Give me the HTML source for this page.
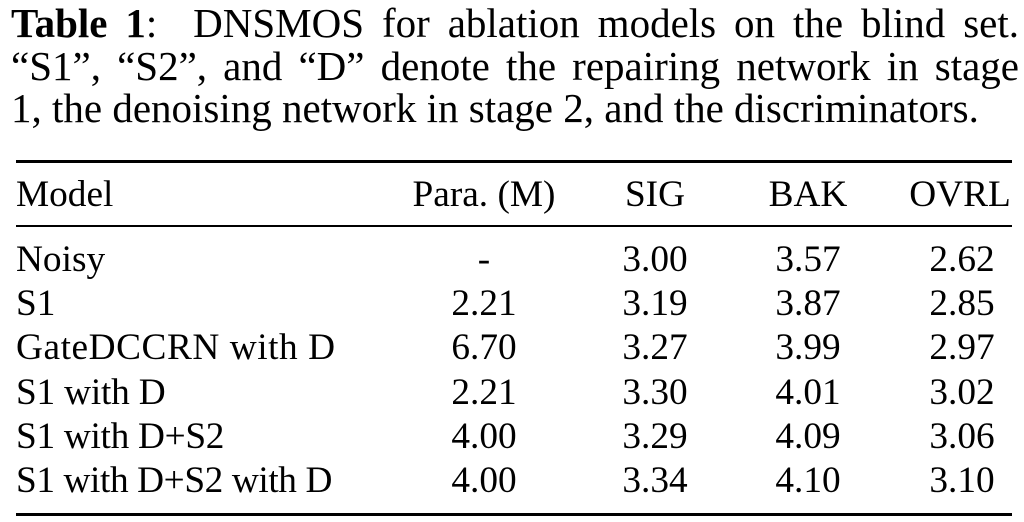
<!DOCTYPE html>
<html>
<head>
<meta charset="utf-8">
<style>
  html, body { margin: 0; padding: 0; background: #fff; }
  body { width: 1024px; height: 522px; overflow: hidden; position: relative; color: #000;
         font-family: "Liberation Serif", "Times New Roman", serif; }
  .cap { position: absolute; left: 11px; font-size: 41px; line-height: 41px; white-space: nowrap; }
  .just { width: 1008px; text-align: justify; text-align-last: justify; white-space: normal; }
  .t { position: absolute; font-size: 37.3px; line-height: 37px; white-space: nowrap; }
  .c { position: absolute; font-size: 37.3px; line-height: 37px; white-space: nowrap; width: 160px; text-align: center; }
  .rule { position: absolute; left: 16px; width: 996px; background: #000; }
</style>
</head>
<body>
  <div class="cap just" style="top:2.5px;"><b>Table 1</b>: &nbsp;DNSMOS for ablation models on the blind set.</div>
  <div class="cap just" style="top:45.5px;">“S1”, “S2”, and “D” denote the repairing network in stage</div>
  <div class="cap" style="top:87.5px;">1, the denoising network in stage 2, and the discriminators.</div>

  <div class="rule" style="top:160px;height:3px;"></div>
  <div class="rule" style="top:225px;height:2px;"></div>
  <div class="rule" style="top:513px;height:3px;"></div>

  <!-- header -->
  <div class="t" style="left:16px;top:175.5px;">Model</div>
  <div class="c" style="left:404px;top:175.5px;">Para. (M)</div>
  <div class="c" style="left:575px;top:175.5px;">SIG</div>
  <div class="c" style="left:728px;top:175.5px;">BAK</div>
  <div class="c" style="left:880px;top:175.5px;">OVRL</div>

  <!-- rows -->
  <div class="t" style="left:16px;top:241px;">Noisy</div>
  <div class="c" style="left:404px;top:241px;">-</div>
  <div class="c" style="left:575px;top:241px;">3.00</div>
  <div class="c" style="left:728px;top:241px;">3.57</div>
  <div class="c" style="left:882px;top:241px;">2.62</div>

  <div class="t" style="left:16px;top:285.2px;">S1</div>
  <div class="c" style="left:404px;top:285.2px;">2.21</div>
  <div class="c" style="left:575px;top:285.2px;">3.19</div>
  <div class="c" style="left:728px;top:285.2px;">3.87</div>
  <div class="c" style="left:882px;top:285.2px;">2.85</div>

  <div class="t" style="left:16px;top:329.4px;letter-spacing:0.55px;">GateDCCRN with D</div>
  <div class="c" style="left:404px;top:329.4px;">6.70</div>
  <div class="c" style="left:575px;top:329.4px;">3.27</div>
  <div class="c" style="left:728px;top:329.4px;">3.99</div>
  <div class="c" style="left:882px;top:329.4px;">2.97</div>

  <div class="t" style="left:16px;top:373.6px;letter-spacing:-0.2px;">S1 with D</div>
  <div class="c" style="left:404px;top:373.6px;">2.21</div>
  <div class="c" style="left:575px;top:373.6px;">3.30</div>
  <div class="c" style="left:728px;top:373.6px;">4.01</div>
  <div class="c" style="left:882px;top:373.6px;">3.02</div>

  <div class="t" style="left:16px;top:417.8px;letter-spacing:-0.3px;">S1 with D+S2</div>
  <div class="c" style="left:404px;top:417.8px;">4.00</div>
  <div class="c" style="left:575px;top:417.8px;">3.29</div>
  <div class="c" style="left:728px;top:417.8px;">4.09</div>
  <div class="c" style="left:882px;top:417.8px;">3.06</div>

  <div class="t" style="left:16px;top:462px;letter-spacing:-0.4px;">S1 with D+S2 with D</div>
  <div class="c" style="left:404px;top:462px;">4.00</div>
  <div class="c" style="left:575px;top:462px;">3.34</div>
  <div class="c" style="left:728px;top:462px;">4.10</div>
  <div class="c" style="left:882px;top:462px;">3.10</div>
</body>
</html>
